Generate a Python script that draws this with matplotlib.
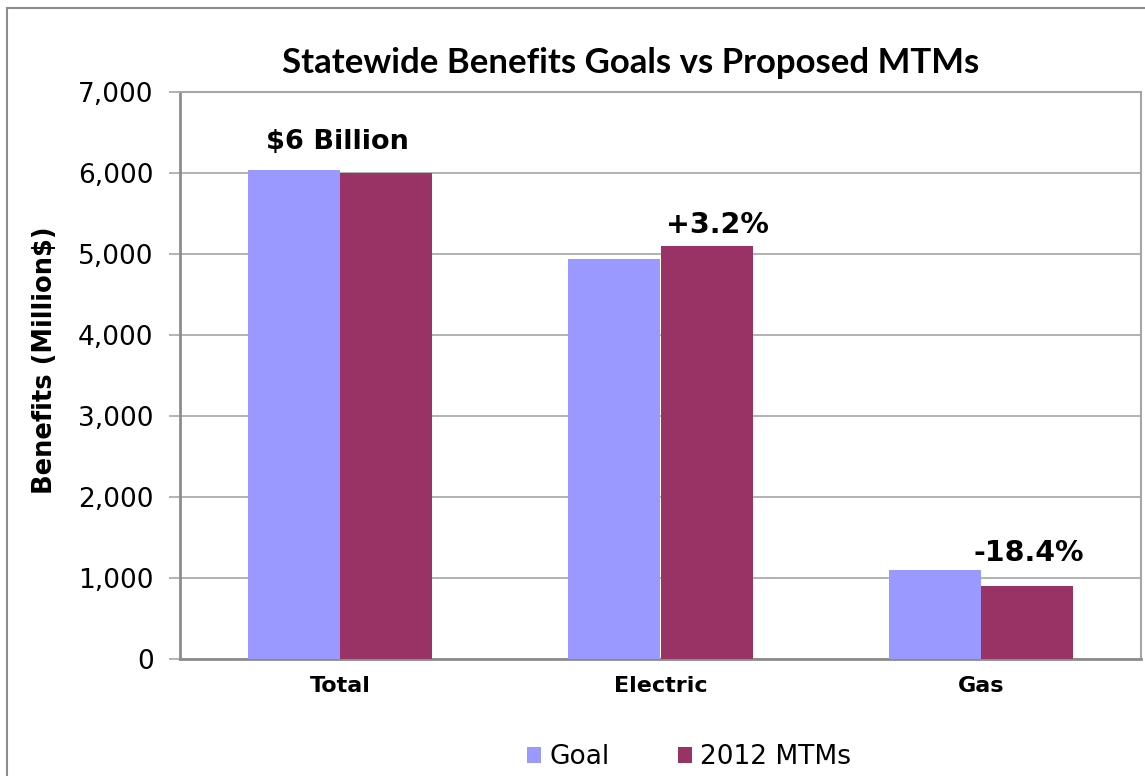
import numpy as np
import matplotlib
matplotlib.use("Agg")
import matplotlib.pyplot as plt
from matplotlib.patches import Rectangle

# Statewide benefits (Million $)
categories = ["Total", "Electric", "Gas"]
goal = [6040, 4940, 1100]
mtms = [6000, 5100, 900]
bar_labels = ["$6 Billion", "+3.2%", "-18.4%"]

goal_color = "#9999ff"
mtm_color = "#993366"
grid_color = "#a6a6a6"

W, H = 1145, 776
fig = plt.figure(figsize=(W / 100, H / 100), dpi=100)
ax = fig.add_axes([180 / W, 1 - 659 / H, 961 / W, 567 / H])

x = np.arange(len(categories))
w = 0.2875
ax.bar(x - w / 2, goal, w, color=goal_color, label="Goal", zorder=3)
ax.bar(x + w / 2, mtms, w, color=mtm_color, label="2012 MTMs", zorder=3)

# labels above the bars
ax.text(x[0] - 0.01, max(goal[0], mtms[0]) + 180, bar_labels[0], ha="center", va="bottom",
        fontsize=19.5, fontweight="bold")
ax.text(x[1] + w / 2 + 0.035, mtms[1] + 80, bar_labels[1], ha="center", va="bottom",
        fontsize=20.5, fontweight="bold")
ax.text(x[2] + w / 2 + 0.005, goal[2] + 40, bar_labels[2], ha="center", va="bottom",
        fontsize=20.5, fontweight="bold")

ax.set_xlim(-0.5, 2.5)
ax.set_ylim(0, 7000)
ax.set_yticks(range(0, 7001, 1000))
ax.set_yticklabels([f"{v:,}" for v in range(0, 7001, 1000)], fontsize=19)
ax.set_xticks(x)
ax.set_xticklabels(categories, fontsize=16, fontweight="bold")
ax.tick_params(axis="x", length=0, pad=12)
ax.tick_params(axis="y", length=8, width=1.2, color=grid_color, pad=11)
ax.yaxis.grid(True, color=grid_color, linewidth=1.2, zorder=0)
ax.set_axisbelow(True)
for side in ["left", "bottom"]:
    ax.spines[side].set_color("#8c8c8c")
    ax.spines[side].set_linewidth(2)
for side in ["top", "right"]:
    ax.spines[side].set_color(grid_color)
    ax.spines[side].set_linewidth(1.5)

fig.text(45 / W, 1 - 360 / H, "Benefits (Million$)", rotation=90, ha="center", va="center",
         fontsize=18.5, fontweight="bold")

fig.text(631 / W, 1 - 63 / H, "Statewide Benefits Goals vs Proposed MTMs",
         ha="center", va="center", fontsize=25, fontweight="bold", family="Lato")

fig.legend(loc="center", bbox_to_anchor=(689 / W, 1 - 757 / H), ncol=2,
           frameon=False, fontsize=19, handlelength=0.55, handleheight=0.55,
           handletextpad=0.3, columnspacing=2.6)

# outer chart border
fig.patches.append(Rectangle((7 / W, -0.05), 1.1, 1 - 8 / H + 0.05,
                             transform=fig.transFigure, fill=False,
                             edgecolor="#8c8c8c", linewidth=1.5))

fig.savefig("out.png", dpi=100)
